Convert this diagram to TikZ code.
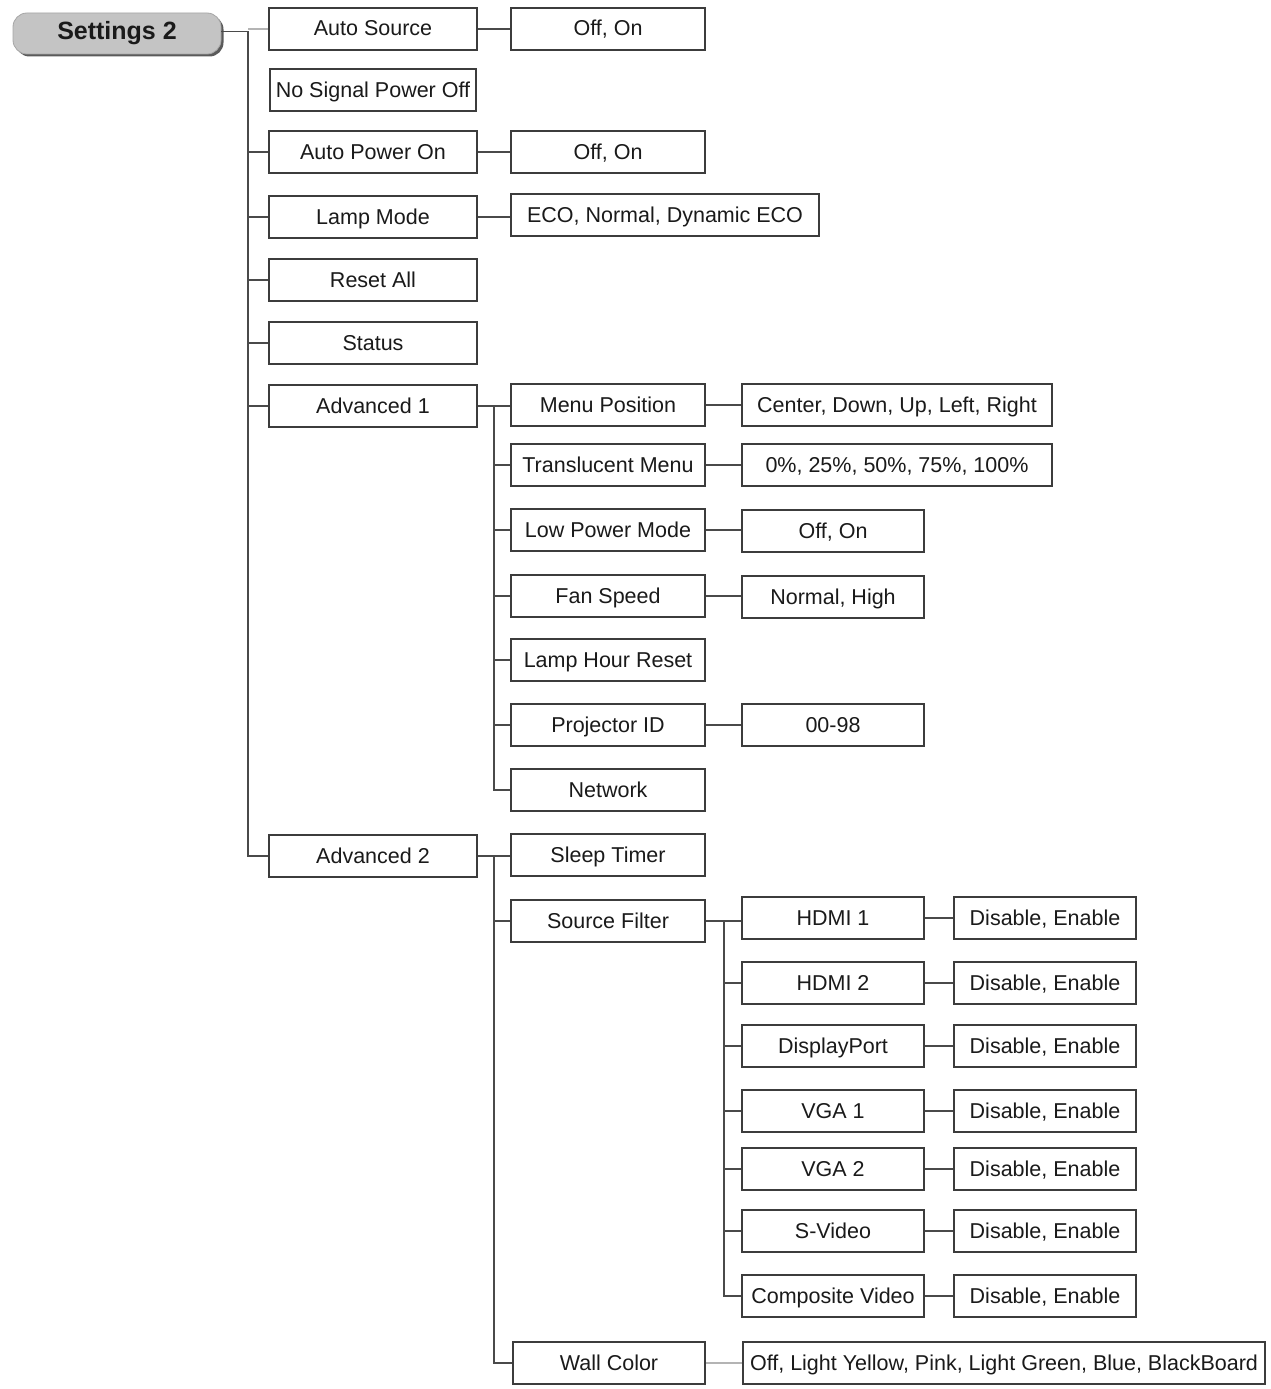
\documentclass[tikz,border=0pt]{standalone}
\usepackage{fontspec}
\setmainfont{Liberation Sans}
\begin{document}
\begin{tikzpicture}[x=1pt,y=-1pt,
  box/.style={draw=boxc, line width=1.6pt, fill=white, minimum height=42, inner sep=0pt,
    text height=15.5pt, text depth=1.5pt,
    text=txtc, font=\fontsize{21.5}{24}\selectfont},
  conn/.style={draw=connc, line width=1.8pt},
  lconn/.style={draw=lconnc, line width=1.8pt},
  pill/.style={rounded corners=14pt, minimum width=208, minimum height=41, inner sep=0pt,
    font=\bfseries\fontsize{25}{28}\selectfont, text=txtc},
]
\definecolor{boxc}{HTML}{3C3C3C}
\definecolor{connc}{HTML}{4A4A4A}
\definecolor{lconnc}{HTML}{B4B4B4}
\definecolor{txtc}{HTML}{1A1A1A}
\definecolor{pillfill}{HTML}{C4C4C4}
\definecolor{pillshadow}{HTML}{5A5A5A}
\useasboundingbox (0,0) rectangle (1270,1389);

% trunk x-positions
\coordinate (t0) at (248,0);
\coordinate (t1) at (494,0);
\coordinate (t2) at (724,0);

% root pill with shadow
\node[pill, fill=pillshadow] (s2sh) at (119.5,36) {};
\node[pill, fill=pillfill, draw=gray!70, line width=0.8pt] (s2) at (117,33.5) {Settings 2};

% level 1
\node[box, minimum width=208] (as)  at (373,29)  {Auto Source};
\node[box, minimum width=206] (nsp) at (373,90)  {No Signal Power Off};
\node[box, minimum width=208] (apo) at (373,152) {Auto Power On};
\node[box, minimum width=208] (lm)  at (373,217) {Lamp Mode};
\node[box, minimum width=208] (ra)  at (373,280) {Reset All};
\node[box, minimum width=208] (st)  at (373,343) {Status};
\node[box, minimum width=208] (a1)  at (373,406) {Advanced 1};
\node[box, minimum width=208] (a2)  at (373,856) {Advanced 2};

% level 2
\node[box, minimum width=194] (asv)  at (608,29)  {Off, On};
\node[box, minimum width=194] (apov) at (608,152) {Off, On};
\node[box, minimum width=308] (lmv)  at (665,215) {ECO, Normal, Dynamic ECO};

\node[box, minimum width=194] (mp)  at (608,405) {Menu Position};
\node[box, minimum width=194] (tm)  at (608,465) {Translucent Menu};
\node[box, minimum width=194] (lpm) at (608,530) {Low Power Mode};
\node[box, minimum width=194] (fs)  at (608,596) {Fan Speed};
\node[box, minimum width=194] (lhr) at (608,660) {Lamp Hour Reset};
\node[box, minimum width=194] (pid) at (608,725) {Projector ID};
\node[box, minimum width=194] (net) at (608,790) {Network};

\node[box, minimum width=194] (slt) at (608,855)  {Sleep Timer};
\node[box, minimum width=194] (sf)  at (608,921)  {Source Filter};
\node[box, minimum width=192] (wc)  at (609,1363) {Wall Color};

% level 3
\node[box, minimum width=310] (mpv)  at (897,405) {Center, Down, Up, Left, Right};
\node[box, minimum width=310] (tmv)  at (897,465) {0\%, 25\%, 50\%, 75\%, 100\%};
\node[box, minimum width=182] (lpmv) at (833,531) {Off, On};
\node[box, minimum width=182] (fsv)  at (833,597) {Normal, High};
\node[box, minimum width=182] (pidv) at (833,725) {00-98};

\node[box, minimum width=182] (h1) at (833,918)  {HDMI 1};
\node[box, minimum width=182] (h2) at (833,983)  {HDMI 2};
\node[box, minimum width=182] (dp) at (833,1046) {DisplayPort};
\node[box, minimum width=182] (v1) at (833,1111) {VGA 1};
\node[box, minimum width=182] (v2) at (833,1169) {VGA 2};
\node[box, minimum width=182] (sv) at (833,1231) {S-Video};
\node[box, minimum width=182] (cv) at (833,1296) {Composite Video};

\node[box, minimum width=522] (wcv) at (1004,1363) {Off, Light Yellow, Pink, Light Green, Blue, BlackBoard};

% level 4
\node[box, minimum width=182] (h1v) at (1045,918)  {Disable, Enable};
\node[box, minimum width=182] (h2v) at (1045,983)  {Disable, Enable};
\node[box, minimum width=182] (dpv) at (1045,1046) {Disable, Enable};
\node[box, minimum width=182] (v1v) at (1045,1111) {Disable, Enable};
\node[box, minimum width=182] (v2v) at (1045,1169) {Disable, Enable};
\node[box, minimum width=182] (svv) at (1045,1231) {Disable, Enable};
\node[box, minimum width=182] (cvv) at (1045,1296) {Disable, Enable};

% connectors: root trunk
\draw[conn] (s2.east) ++(0,-2) -- ([yshift=2pt]s2.east -| t0);
\draw[conn] ([yshift=2pt]s2.east -| t0) |- (a2.west);
\draw[lconn] (as.west -| t0) -- (as.west);
\foreach \n in {apo,lm,ra,st,a1}{\draw[conn] (\n.west -| t0) -- (\n.west);}

% level1 -> values
\draw[conn] (as.east) -- (asv.west);
\draw[conn] (apo.east) -- (apov.west);
\draw[conn] (lm.east) -- (lmv.west |- lm.east);

% Advanced 1
\draw[conn] (a1.east) -- (mp.west |- a1.east);
\draw[conn] (a1.east -| t1) |- (net.west);
\foreach \n in {tm,lpm,fs,lhr,pid}{\draw[conn] (\n.west -| t1) -- (\n.west);}
\draw[conn] (mp.east) -- (mpv.west);
\draw[conn] (tm.east) -- (tmv.west);
\draw[conn] (lpm.east) -- (lpmv.west |- lpm.east);
\draw[conn] (fs.east) -- (fsv.west |- fs.east);
\draw[conn] (pid.east) -- (pidv.west);

% Advanced 2
\draw[conn] (a2.east) -- (slt.west |- a2.east);
\draw[conn] (a2.east -| t1) |- (wc.west);
\draw[conn] (sf.west -| t1) -- (sf.west);
\draw[lconn] (wc.east) -- (wcv.west);

% Source Filter
\draw[conn] (sf.east) -- (h1.west |- sf.east);
\draw[conn] (sf.east -| t2) |- (cv.west);
\foreach \n in {h2,dp,v1,v2,sv}{\draw[conn] (\n.west -| t2) -- (\n.west);}
\foreach \n in {h1,h2,dp,v1,v2,sv,cv}{\draw[conn] (\n.east) -- (\n v.west);}
\end{tikzpicture}
\end{document}
